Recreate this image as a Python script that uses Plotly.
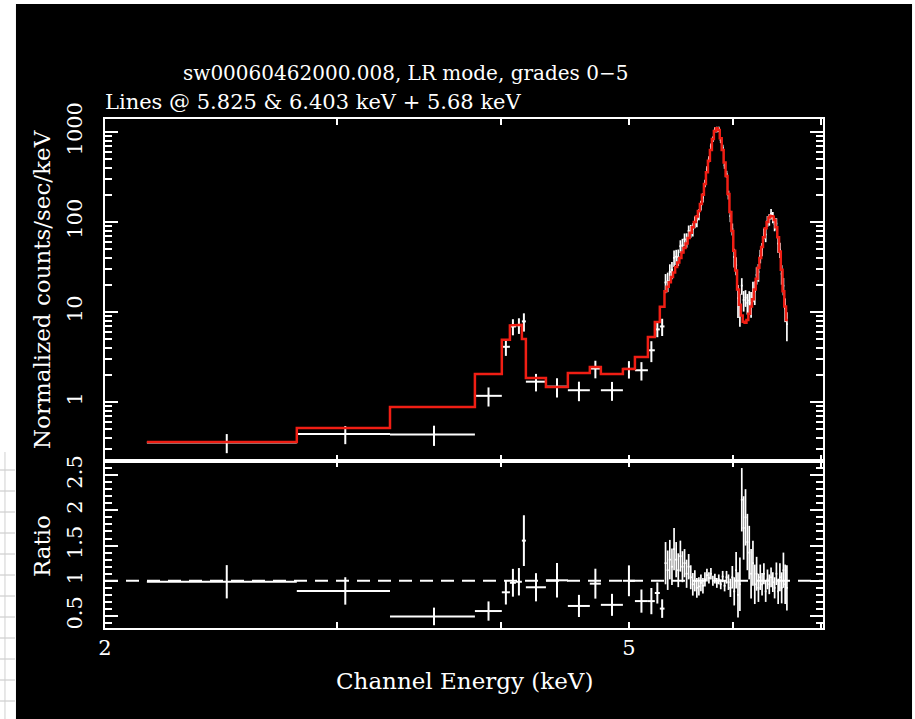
import plotly.graph_objects as go

# ---- coarse (grouped) channels below 5.32 keV ----
low_lo = [2.152, 2.797, 3.292, 3.819, 4.003, 4.060, 4.103, 4.146, 4.175,
          4.324, 4.493, 4.669, 4.760, 4.947, 5.052, 5.168, 5.231, 5.277]
low_hi = [2.797, 3.292, 3.819, 4.003, 4.060, 4.103, 4.146, 4.175, 4.324,
          4.493, 4.669, 4.760, 4.947, 5.052, 5.168, 5.231, 5.277, 5.320]
low_counts = [0.355, 0.44, 0.435, 1.17, 4.1, 6.9, 7.1, 7.85, 1.68,
              1.48, 1.35, 2.35, 1.35, 2.33, 2.25, 3.75, 6.4, 6.9]
low_err = [0.085, 0.10, 0.11, 0.28, 0.85, 1.4, 1.4, 1.8, 0.37,
           0.36, 0.33, 0.52, 0.32, 0.51, 0.52, 0.98, 1.16, 1.5]
low_model = [0.36, 0.514, 0.88, 2.05, 4.9, 7.1, 7.2, 5.0, 1.85,
             1.47, 2.1, 2.45, 2.05, 2.33, 3.16, 5.27, 7.74, 11.4]

# ---- fine channels across the line region (20 eV wide) ----
fine_center = [5.33, 5.35, 5.37, 5.39, 5.41, 5.43, 5.45, 5.47, 5.49, 5.51,
               5.53, 5.55, 5.57, 5.59, 5.61, 5.63, 5.65, 5.67, 5.69, 5.71,
               5.73, 5.75, 5.77, 5.79, 5.81, 5.83, 5.85, 5.87, 5.89, 5.91,
               5.93, 5.95, 5.97, 5.99, 6.01, 6.03, 6.05, 6.07, 6.09, 6.11,
               6.13, 6.15, 6.17, 6.19, 6.21, 6.23, 6.25, 6.27, 6.29, 6.31,
               6.33, 6.35, 6.37, 6.39, 6.41, 6.43, 6.45, 6.47, 6.49, 6.51,
               6.53, 6.55, 6.57, 6.59]
fine_halfwidth = 0.01
fine_model = [17.0, 19.1, 21.4, 24.5, 27.5, 31.6, 35.5, 39.8, 45.7, 51.3,
              57.5, 66.1, 75.9, 87.1, 100, 115, 132, 158, 200, 263,
              355, 479, 631, 832, 1023, 1096, 1047, 851, 631, 457,
              324, 204, 129, 79.4, 47.9, 28.8, 17.8, 12.0, 9.12, 7.76,
              7.59, 8.13, 9.55, 11.5, 13.8, 17.8, 23.4, 30.9, 39.8, 52.5,
              67.6, 85.1, 100, 112, 117, 115, 105, 87.1, 67.6, 46.8,
              29.5, 17.0, 11.5, 8.13]
fine_ratio = [1.25, 1.15, 1.30, 1.20, 1.45, 1.30, 1.15, 1.35, 1.20, 1.25,
              1.10, 1.20, 1.05, 0.95, 1.00, 0.90, 0.92, 0.97, 0.93, 1.02,
              1.08, 1.04, 1.10, 1.00, 1.03, 0.97, 1.02, 0.95, 1.06, 0.93,
              1.05, 0.98, 0.90, 1.05, 0.85, 1.15, 0.80, 0.95, 2.15, 1.75,
              1.90, 1.55, 1.40, 1.10, 1.25, 0.95, 1.10, 0.90, 1.05, 0.95,
              1.10, 0.85, 1.02, 0.95, 1.05, 0.98, 0.90, 1.10, 0.85, 1.05,
              0.90, 1.15, 0.95, 0.90]
fine_ratio_err = [0.30, 0.28, 0.28, 0.26, 0.30, 0.25, 0.24,
                  0.22, 0.22, 0.20, 0.20, 0.18, 0.17, 0.16,
                  0.15, 0.14, 0.13, 0.12, 0.11,
                  0.10, 0.09, 0.08, 0.08, 0.07, 0.07,
                  0.07, 0.07, 0.07, 0.08, 0.08, 0.09,
                  0.11, 0.13, 0.16, 0.20, 0.26, 0.32, 0.38,
                  0.45, 0.45, 0.40, 0.40, 0.38, 0.35,
                  0.32, 0.28, 0.24, 0.20, 0.18, 0.16,
                  0.15, 0.15, 0.14, 0.14, 0.14, 0.14,
                  0.15, 0.16, 0.18, 0.20, 0.22, 0.25, 0.28, 0.32]

x_tickvals = [2, 3, 4, 5, 6, 7]
x_ticktext = ["2", "", "", "5", "", ""]
y_tickvals = [1, 10, 100, 1000]
y_ticktext = ["1", "10", "100", "1000"]
r_tickvals = [0.5, 1.0, 1.5, 2.0, 2.5]
r_ticktext = ["0.5", "1", "1.5", "2", "2.5"]

title_1 = "sw00060462000.008, LR mode, grades 0\u22125"
title_2 = "Lines @ 5.825 & 6.403 keV + 5.68 keV"
x_title = "Channel Energy (keV)"
y_title = "Normalized counts/sec/keV"
r_title = "Ratio"

# ---- derived quantities ----
low_center = [(a + b) / 2 for a, b in zip(low_lo, low_hi)]
low_xp = [b - c for b, c in zip(low_hi, low_center)]
low_xm = [c - a for a, c in zip(low_lo, low_center)]
low_ratio = [d / m for d, m in zip(low_counts, low_model)]
low_ratio_err = [e / m for e, m in zip(low_err, low_model)]

fine_counts = [m * r for m, r in zip(fine_model, fine_ratio)]
fine_err = [m * e for m, e in zip(fine_model, fine_ratio_err)]
fine_lo = [c - fine_halfwidth for c in fine_center]
fine_hi = [c + fine_halfwidth for c in fine_center]

# histogram-style model curve
step_x, step_y = [], []
for a, b, m in zip(low_lo + fine_lo, low_hi + fine_hi, low_model + fine_model):
    step_x += [a, b]
    step_y += [m, m]

WHITE = "white"
RED = "#f01e14"
FONT = "DejaVu Serif"

fig = go.Figure()

# data points, spectrum panel
fig.add_trace(go.Scatter(
    x=low_center, y=low_counts, mode="markers",
    marker=dict(size=0.1, color=WHITE),
    error_x=dict(type="data", symmetric=False, array=low_xp, arrayminus=low_xm,
                 color=WHITE, thickness=2, width=0),
    error_y=dict(type="data", array=low_err, color=WHITE, thickness=2, width=0),
    xaxis="x2", yaxis="y", showlegend=False, hoverinfo="skip"))
fig.add_trace(go.Scatter(
    x=fine_center, y=fine_counts, mode="markers",
    marker=dict(size=0.1, color=WHITE),
    error_x=dict(type="constant", value=fine_halfwidth, color=WHITE,
                 thickness=1.7, width=0),
    error_y=dict(type="data", array=fine_err, color=WHITE, thickness=1.7, width=0),
    xaxis="x2", yaxis="y", showlegend=False, hoverinfo="skip"))

# folded model
fig.add_trace(go.Scatter(
    x=step_x, y=step_y, mode="lines", line=dict(color=RED, width=2.5),
    xaxis="x2", yaxis="y", showlegend=False, hoverinfo="skip"))

# ratio panel
fig.add_trace(go.Scatter(
    x=[2.0, 7.02], y=[1.0, 1.0], mode="lines",
    line=dict(color=WHITE, width=2, dash="13px,8px"),
    xaxis="x", yaxis="y2", showlegend=False, hoverinfo="skip"))
fig.add_trace(go.Scatter(
    x=low_center, y=low_ratio, mode="markers",
    marker=dict(size=0.1, color=WHITE),
    error_x=dict(type="data", symmetric=False, array=low_xp, arrayminus=low_xm,
                 color=WHITE, thickness=2, width=0),
    error_y=dict(type="data", array=low_ratio_err, color=WHITE, thickness=2, width=0),
    xaxis="x", yaxis="y2", showlegend=False, hoverinfo="skip"))
fig.add_trace(go.Scatter(
    x=fine_center, y=fine_ratio, mode="markers",
    marker=dict(size=0.1, color=WHITE),
    error_x=dict(type="constant", value=fine_halfwidth, color=WHITE,
                 thickness=1.7, width=0),
    error_y=dict(type="data", array=fine_ratio_err, color=WHITE, thickness=1.7, width=0),
    xaxis="x", yaxis="y2", showlegend=False, hoverinfo="skip"))

tickfont = dict(family=FONT, size=21, color=WHITE)
common = dict(showline=True, linecolor=WHITE, linewidth=2, mirror="allticks",
              ticks="inside", tickcolor=WHITE, tickwidth=1.5,
              showgrid=False, zeroline=False, tickfont=tickfont)

log_minor = [d * m for d in (0.1, 1, 10, 100, 1000) for m in range(2, 10)]
lin_minor = [v / 10 for v in range(4, 27) if v % 5 != 0]

split = 0.3281
fig.update_layout(
    width=915, height=719,
    margin=dict(l=105, r=92, t=119, b=91),
    paper_bgcolor="white", plot_bgcolor="black",
    xaxis=dict(type="log", range=[0.30103, 0.8463], domain=[0, 1], anchor="y2",
               tickmode="array", tickvals=x_tickvals, ticktext=x_ticktext,
               ticklen=6, ticklabelstandoff=0, **common),
    xaxis2=dict(type="log", matches="x", domain=[0, 1], anchor="y",
                tickmode="array", tickvals=x_tickvals, ticktext=x_ticktext,
                ticklen=6, showticklabels=False, **common),
    yaxis=dict(type="log", range=[-0.6556, 3.1430], domain=[split, 1], anchor="x2",
               tickmode="array", tickvals=y_tickvals, ticktext=y_ticktext,
               tickangle=-90, ticklen=13, ticklabelstandoff=13,
               minor=dict(tickmode="array", tickvals=log_minor, ticks="inside",
                          ticklen=7, tickcolor=WHITE, tickwidth=1.5),
               **common),
    yaxis2=dict(range=[0.33, 2.70], domain=[0, split], anchor="x",
                tickmode="array", tickvals=r_tickvals, ticktext=r_ticktext,
                tickangle=-90, ticklen=13, ticklabelstandoff=13,
                minor=dict(tickmode="array", tickvals=lin_minor, ticks="inside",
                           ticklen=7, tickcolor=WHITE, tickwidth=1.5),
                **common),
)

# black page area with a thin light border strip on the left
shapes = [dict(type="rect", xref="paper", yref="paper", x0=-0.1240, x1=1.1240,
               y0=-0.25, y1=1.2259, fillcolor="black", line=dict(width=0),
               layer="below")]
# faint table rules visible in the left strip
for py in range(470, 719, 21):
    yp = (628 - py) / 509
    shapes.append(dict(type="line", xref="paper", yref="paper",
                       x0=-0.1462, x1=-0.1254, y0=yp, y1=yp,
                       line=dict(color="#c4c4c4", width=1)))
shapes.append(dict(type="line", xref="paper", yref="paper",
                   x0=-0.1393, x1=-0.1393, y0=(628 - 452) / 509, y1=-0.25,
                   line=dict(color="#d0d0d0", width=1)))
fig.update_layout(shapes=shapes)

title1_font = dict(family=FONT, size=20, color=WHITE)
title2_font = dict(family=FONT, size=21, color=WHITE)
lab_font = dict(family=FONT, size=23, color=WHITE)
fig.update_layout(annotations=[
    dict(text=title_1, xref="paper", yref="paper", x=0.4192, y=1.0904,
         xanchor="center", yanchor="middle", showarrow=False, font=title1_font),
    dict(text=title_2, xref="paper", yref="paper", x=-0.0028, y=1.0334,
         xanchor="left", yanchor="middle", showarrow=False, font=title2_font),
    dict(text=x_title, xref="paper", yref="paper", x=0.5, y=-0.1041,
         xanchor="center", yanchor="middle", showarrow=False, font=lab_font),
    dict(text=y_title, xref="paper", yref="paper", x=-0.0877, y=0.664,
         xanchor="center", yanchor="middle", textangle=-90, showarrow=False,
         font=lab_font),
    dict(text=r_title, xref="paper", yref="paper", x=-0.0877, y=0.1611,
         xanchor="center", yanchor="middle", textangle=-90, showarrow=False,
         font=lab_font),
])

fig.write_html("out.html")
